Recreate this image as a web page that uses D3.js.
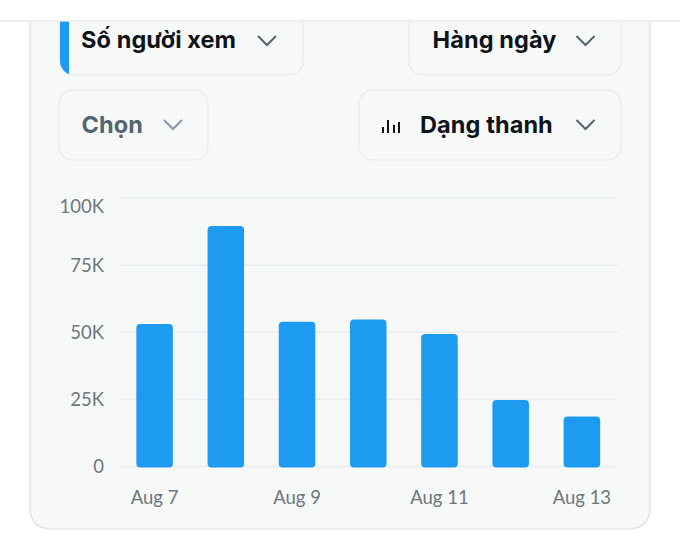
<!DOCTYPE html>
<html><head><meta charset="utf-8">
<script src="https://cdn.jsdelivr.net/npm/d3@7/dist/d3.min.js"></script>
<style>
html,body{margin:0;padding:0;background:#fff;}
svg{display:block;}
</style></head>
<body>
<svg id="c" width="680" height="546"></svg>
<script>
const categories = ["Aug 7","Aug 8","Aug 9","Aug 10","Aug 11","Aug 12","Aug 13"];
const viewers = [52900, 89400, 53700, 54600, 49200, 24600, 18400];
const yTicks = [0, 25000, 50000, 75000, 100000];
const yTickLabels = ["0","25K","50K","75K","100K"];
const xTickLabels = ["Aug 7","Aug 9","Aug 11","Aug 13"];
const menus = ["Số người xem","Hàng ngày","Chọn","Dạng thanh"];

const svg = d3.select("#c");
const headFont = "Inter, 'Noto Sans', sans-serif";
const axisFont = "Lato, 'Noto Sans', sans-serif";
const headSize = 23.5;

// card
const cardPath = (x0,y0,x1,y1,r)=>`M${x0},${y0} L${x0},${y1-r} Q${x0},${y1} ${x0+r},${y1} L${x1-r},${y1} Q${x1},${y1} ${x1},${y1-r} L${x1},${y0}`;
svg.append("path").attr("d", cardPath(30,0,650,529,22)+" Z").attr("fill","#f7f9f9").attr("stroke","#d9e0e4").attr("stroke-width",1.2);

function box(x0,y0,x1,y1){
  return svg.append("rect").attr("x",x0).attr("y",y0).attr("width",x1-x0).attr("height",y1-y0)
    .attr("rx",14).attr("fill","#f7f9f9").attr("stroke","#e6eaec").attr("stroke-width",1.2);
}
function chevron(cx,cy,color){
  svg.append("path").attr("d",`M${cx-9},${cy-4.5} L${cx},${cy+4.5} L${cx+9},${cy-4.5}`)
    .attr("fill","none").attr("stroke",color).attr("stroke-width",2);
}
function label(x0,yb,t,color){
  svg.append("text").attr("x",x0).attr("y",yb).text(t)
    .attr("font-family",headFont).attr("font-weight",700).attr("font-size",headSize)
    .attr("letter-spacing",0.1).attr("fill",color);
}
const defs = svg.append("defs");
defs.append("clipPath").attr("id","b1").append("rect").attr("x",60).attr("y",-20).attr("width",243).attr("height",95).attr("rx",14);
box(60,-20,303,75);
svg.append("rect").attr("x",60).attr("y",-20).attr("width",9).attr("height",95).attr("fill","#1d9bf0").attr("clip-path","url(#b1)");
label(81,48,menus[0],"#0f1419");
chevron(267,40.5,"#536471");

box(409,-20,621,75);
label(432.5,48,menus[1],"#0f1419");
chevron(585.5,40.5,"#536471");

box(59,90,208,160);
label(81.5,132.5,menus[2],"#536471");
chevron(173,124.5,"#8b98a5");

box(359,90,621,160);
[[383,127],[388,120],[394,125],[399,122]].forEach(([x,t])=>{
  svg.append("rect").attr("x",x-1).attr("y",t).attr("width",2).attr("height",133-t).attr("fill","#0f1419");
});
label(420,132.5,menus[3],"#0f1419");
chevron(585.5,124.5,"#536471");

// header cover + line
svg.append("rect").attr("x",0).attr("y",0).attr("width",680).attr("height",21).attr("fill","#fff");
svg.append("line").attr("x1",0).attr("x2",680).attr("y1",21).attr("y2",21).attr("stroke","#e6ecf0").attr("stroke-width",1.5);

// chart
const x = d3.scaleBand().domain(categories).range([119,617.5]).paddingInner(0.487).paddingOuter(0.2435);
const y = d3.scaleLinear().domain([0,100000]).range([466,197.5]);

const g = svg.append("g");
g.append("g").attr("transform","translate(119,0)")
  .call(d3.axisLeft(y).tickValues(yTicks).tickSize(-498.5).tickFormat(""))
  .call(s=>s.select(".domain").remove())
  .call(s=>s.selectAll("line").attr("stroke","#e7ecef").attr("stroke-width",1.5));

g.append("g").attr("transform","translate(104,0)")
  .call(d3.axisLeft(y).tickValues(yTicks).tickSize(0).tickPadding(0).tickFormat((d,i)=>yTickLabels[i]))
  .call(s=>s.select(".domain").remove())
  .call(s=>s.selectAll("text").attr("font-family",axisFont).attr("font-size",18.5).attr("fill","#6e767d")
     .attr("dy",(d)=> d===100000 ? "0.8em" : "0.36em"));

g.selectAll("rect.bar").data(viewers).join("rect").attr("class","bar")
  .attr("x",(d,i)=>x(categories[i])).attr("width",x.bandwidth())
  .attr("y",d=>y(d)).attr("height",d=>y(0)-y(d)+1.5)
  .attr("rx",4).attr("fill","#1d9bf0");

g.append("g").attr("transform","translate(0,490)")
  .call(d3.axisBottom(x).tickValues(xTickLabels).tickSize(0).tickPadding(0))
  .call(s=>s.select(".domain").remove())
  .call(s=>s.selectAll("text").attr("font-family",axisFont).attr("font-size",18.5).attr("fill","#6e767d").attr("dy","0.78em"));
</script>
</body></html>
